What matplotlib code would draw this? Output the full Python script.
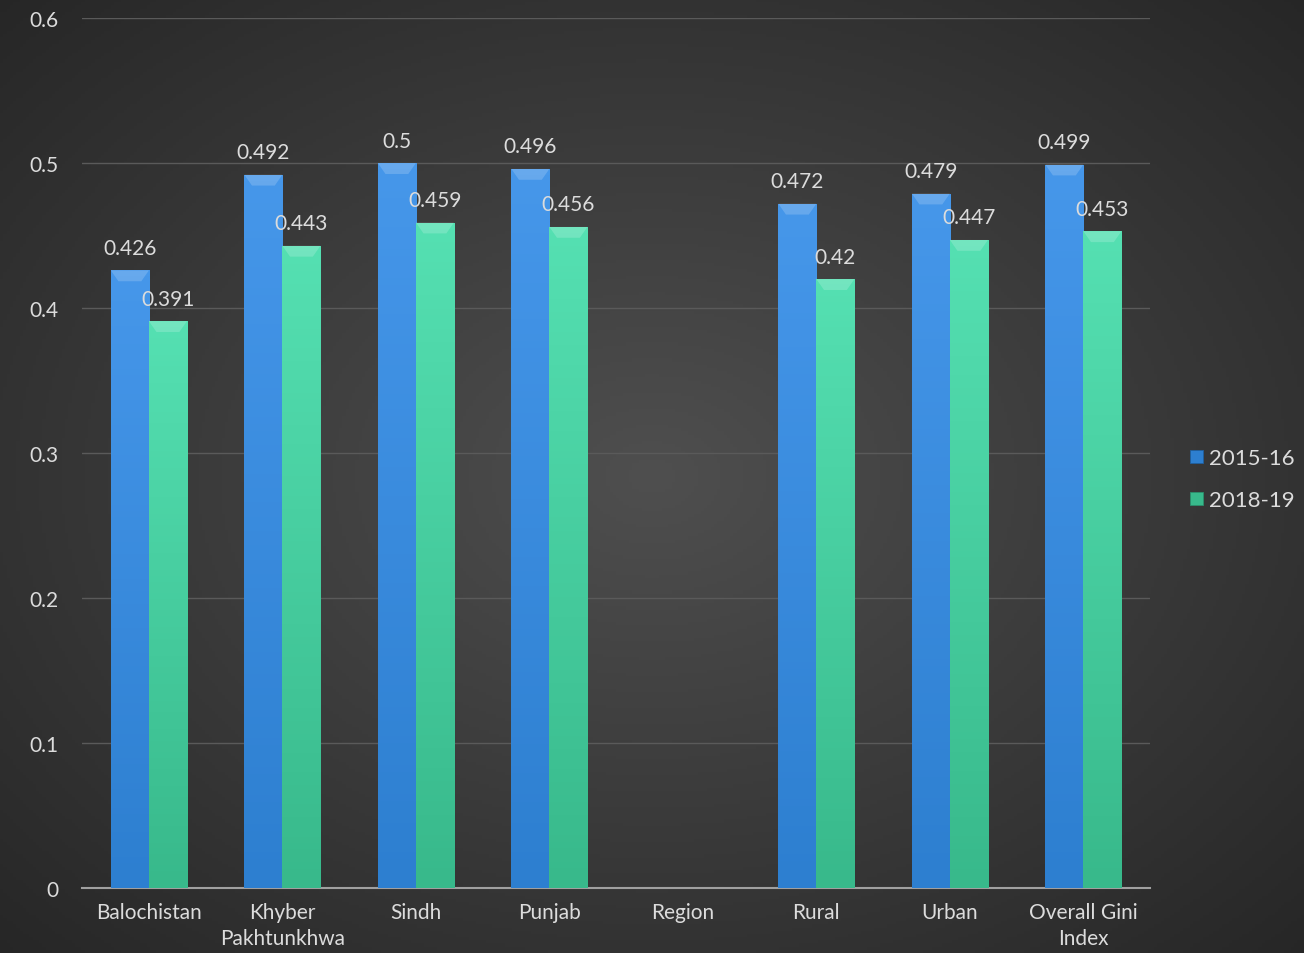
import numpy as np
import matplotlib.pyplot as plt
from matplotlib.patches import Polygon

categories = ['Balochistan', 'Khyber\nPakhtunkhwa', 'Sindh', 'Punjab', 'Region',
              'Rural', 'Urban', 'Overall Gini\nIndex']
gini_2015 = [0.426, 0.492, 0.5, 0.496, np.nan, 0.472, 0.479, 0.499]
gini_2018 = [0.391, 0.443, 0.459, 0.456, np.nan, 0.42, 0.447, 0.453]
series = ['2015-16', '2018-19']
ticks = [0, 0.1, 0.2, 0.3, 0.4, 0.5, 0.6]

txt = '#dcdcdc'
fs = 15
plt.rcParams['font.family'] = ['Lato', 'DejaVu Sans']
plt.rcParams['font.size'] = fs

fig = plt.figure(figsize=(13.04, 9.54), dpi=100)

# radial background
bg = fig.add_axes([0, 0, 1, 1], zorder=-10)
yy, xx = np.mgrid[0:1:300j, 0:1:400j]
r = np.sqrt(((xx - 0.5) / 0.8) ** 2 + ((yy - 0.5) / 0.8) ** 2)
shade = np.clip(0.31 - 0.18 * r, 0.15, 0.31)
bg.imshow(np.dstack([shade] * 3), extent=[0, 1, 0, 1], aspect='auto')
bg.set_axis_off()

ax = fig.add_axes([0.063, 0.068, 0.819, 0.912])
ax.patch.set_alpha(0)
x = np.arange(len(categories))
w = 0.285

colors = [('#4697ea', '#2d7fd0'), ('#55e0b2', '#38b98b')]
edges = ['#1f5f9f', '#2a8f6c']
for k, (vals, (c1, c2)) in enumerate(zip([gini_2015, gini_2018], colors)):
    bars = ax.bar(x + (k - 0.5) * w, vals, w, color=c2, edgecolor=edges[k],
                  linewidth=0.6, label=series[k], zorder=3)
    grad = np.linspace(0, 1, 100)[:, None]
    cmap = plt.matplotlib.colors.LinearSegmentedColormap.from_list('g', [c2, c1])
    for b, v in zip(bars, vals):
        if np.isnan(v):
            continue
        bx, bw, bh = b.get_x(), b.get_width(), b.get_height()
        im = ax.imshow(grad, cmap=cmap, extent=[bx, bx + bw, 0, bh], aspect='auto',
                       origin='lower', zorder=3.5)
        im.set_clip_path(b)
        bev = 0.0075
        ax.add_patch(Polygon([[bx, bh], [bx + bw, bh], [bx + bw - bw * 0.2, bh - bev],
                              [bx + bw * 0.2, bh - bev]], closed=True,
                             facecolor='white', alpha=0.18, lw=0, zorder=4))
        ax.annotate(f'{v:g}', (bx + bw / 2, bh), xytext=(0, 9), textcoords='offset points',
                    ha='center', va='bottom', color=txt, fontsize=fs, zorder=5)

ax.set_xlim(-0.5, len(categories) - 0.5)
ax.set_ylim(0, 0.6)
ax.set_yticks(ticks)
ax.set_yticklabels([f'{t:g}' for t in ticks])
ax.set_xticks(x)
ax.set_xticklabels(categories, linespacing=1.35, va='top')
ax.yaxis.grid(True, color='#5a5a5a', linewidth=1, zorder=0)
ax.set_axisbelow(True)
for s in ['top', 'right', 'left']:
    ax.spines[s].set_visible(False)
ax.spines['bottom'].set_color('#a0a0a0')
ax.spines['bottom'].set_linewidth(1.5)
ax.tick_params(axis='both', length=0, colors=txt, labelsize=fs)
ax.tick_params(axis='y', pad=17)
ax.tick_params(axis='x', pad=10)

leg = ax.legend(loc='center left', bbox_to_anchor=(1.019, 0.47), frameon=False,
                handlelength=0.55, handleheight=0.55, handletextpad=0.3, labelspacing=1.0,
                fontsize=16)
for t in leg.get_texts():
    t.set_color(txt)

fig.savefig('out.png', dpi=100)
